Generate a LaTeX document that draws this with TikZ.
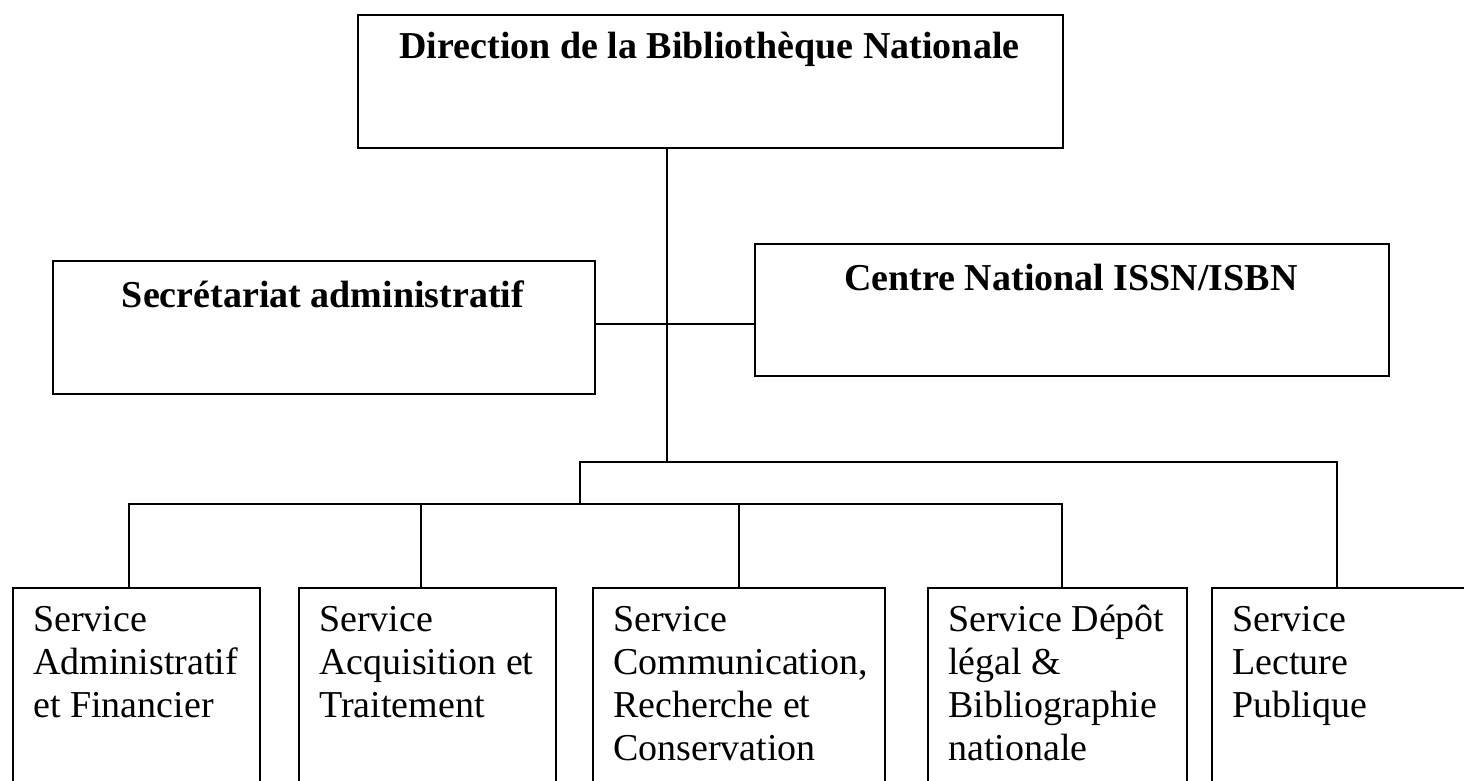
\documentclass[tikz,border=0pt]{standalone}
\usepackage{fontspec}
\setmainfont{Liberation Serif}
\begin{document}
\begin{tikzpicture}[x=1pt,y=-1pt,
  box/.style={draw, line width=1.6pt, inner sep=0pt, anchor=north west},
  headtext/.style={font=\bfseries\fontsize{38}{44}\selectfont, inner sep=0pt, anchor=base},
  svctext/.style={font=\fontsize{38}{43}\selectfont, inner sep=0pt, anchor=north west, align=left},
  link/.style={line width=1.6pt}]
\useasboundingbox (0,0) rectangle (1464,780);

% top boxes
\node[box, line width=2pt, minimum width=705pt, minimum height=133pt] (dir) at (357,14) {};
\node[headtext] (dirt) at (709.5,58) {Direction de la Bibliothèque Nationale};
\node[box, minimum width=542pt, minimum height=133pt] (sec) at (52,260) {};
\node[headtext] (sect) at (323,307) {Secrétariat administratif};
\node[box, minimum width=634pt, minimum height=132pt] (isbn) at (754,243) {};
\node[headtext] (isbnt) at (1071,290) {Centre National ISSN/ISBN};

% service boxes
\node[box, minimum width=247pt, minimum height=260pt] (s1) at (12,587) {};
\node[box, minimum width=257pt, minimum height=260pt] (s2) at (298,587) {};
\node[box, minimum width=292pt, minimum height=260pt] (s3) at (592,587) {};
\node[box, minimum width=259pt, minimum height=260pt] (s4) at (927,587) {};
\node[box, minimum width=300pt, minimum height=260pt] (s5) at (1211,587) {};

\node[svctext] (t1) at (33,600.9) {\strut Service\\Administratif\\et Financier};
\node[svctext] (t2) at (319,600.9) {\strut Service\\Acquisition et\\Traitement};
\node[svctext] (t3) at (613,600.9) {\strut Service\\Communication,\\Recherche et\\Conservation};
\node[svctext] (t4) at (948,600.9) {\strut Service Dépôt\\légal \&\\Bibliographie\\nationale};
\node[svctext] (t5) at (1232,600.9) {\strut Service\\Lecture\\Publique};

% junctions
\coordinate (trunk) at (667,462);
\coordinate (mid) at (667,324);
\coordinate (ub) at (580,462);
\coordinate (lb) at (580,504);
\coordinate (r5) at (1337,462);
\coordinate (l1) at (129,504);
\coordinate (l2) at (421,504);
\coordinate (l3) at (739,504);
\coordinate (l4) at (1062,504);

% connectors
\draw[link] (dir.south -| trunk) -- (trunk);
\draw[link] (sec.east |- mid) -- (isbn.west |- mid);
\draw[link] (lb) -- (ub) -- (r5) -- (s5.north -| r5);
\draw[link] (s1.north -| l1) -- (l1) -- (l4) -- (s4.north -| l4);
\draw[link] (l2) -- (s2.north -| l2);
\draw[link] (l3) -- (s3.north -| l3);
\end{tikzpicture}
\end{document}
